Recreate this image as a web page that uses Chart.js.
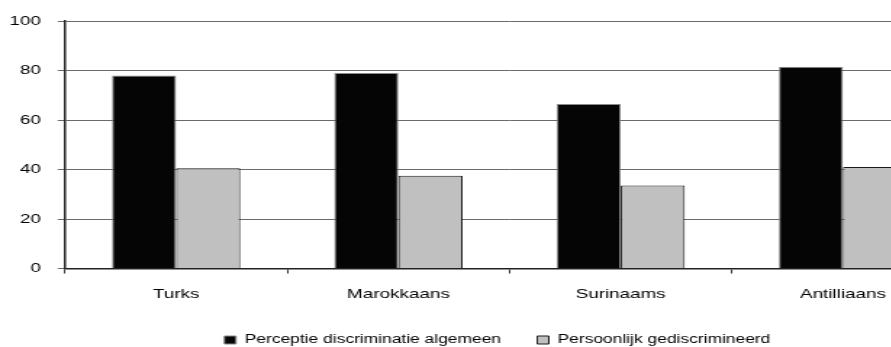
<!DOCTYPE html>
<html>
<head>
<meta charset="utf-8">
<script src="https://cdn.jsdelivr.net/npm/chart.js@4/dist/chart.umd.min.js"></script>
<style>
  html, body { margin: 0; padding: 0; background: #fff; overflow: hidden; width: 891px; height: 347px; }
  #wrap { width: 660px; height: 356px; transform: scaleX(1.45); transform-origin: 0 0; }
</style>
</head>
<body>
<div id="wrap"><canvas id="c" width="660" height="356"></canvas></div>
<script>
const categories = ["Turks", "Marokkaans", "Surinaams", "Antilliaans"];
const seriesNames = ["Perceptie discriminatie algemeen", "Persoonlijk gediscrimineerd"];
const perceptieAlgemeen = [78, 79, 66.5, 81.5];
const persoonlijk = [40.5, 37.5, 33.5, 41];
const yTickLabels = ["0", "20", "40", "60", "80", "100"];

const FONT = "'Liberation Sans', Arial, sans-serif";

const legendShift = {
  id: 'legendShift',
  afterLayout(chart) {
    const lg = chart.legend;
    if (lg) { lg.left += 12; lg.right += 12; }
  }
};

new Chart(document.getElementById('c'), {
  type: 'bar',
  data: {
    labels: categories,
    datasets: [
      { label: seriesNames[0], data: perceptieAlgemeen, backgroundColor: '#050505', borderColor: '#8a8a8a', borderWidth: 1, categoryPercentage: 0.577, barPercentage: 1 },
      { label: seriesNames[1], data: persoonlijk, backgroundColor: '#c0c0c0', borderColor: '#1a1a1a', borderWidth: 1, categoryPercentage: 0.577, barPercentage: 1 }
    ]
  },
  plugins: [legendShift],
  options: {
    responsive: false,
    animation: false,
    devicePixelRatio: 1,
    layout: { padding: { left: 4, right: 2, top: 21, bottom: 0 } },
    plugins: {
      tooltip: { enabled: false },
      legend: {
        position: 'bottom',
        labels: { boxWidth: 8, boxHeight: 8, padding: 25, color: '#000', font: { family: FONT, size: 12 } }
      }
    },
    scales: {
      x: {
        grid: { drawOnChartArea: false, drawTicks: true, tickLength: 5, color: '#333', offset: true },
        border: { color: '#222', width: 1.5 },
        ticks: { color: '#000', padding: 13, font: { family: FONT, size: 13 } },
        afterFit(scale) { scale.height = 40.5; }
      },
      y: {
        min: 0, max: 100,
        grid: { color: '#6a6a6a', lineWidth: 1, drawTicks: true, tickLength: 5 },
        border: { color: '#222', width: 1.5 },
        ticks: {
          stepSize: 20, color: '#000', padding: 11.5, font: { family: FONT, size: 13 },
          callback: (v, i) => yTickLabels[i]
        },
        afterFit(scale) { scale.width = 40.8; }
      }
    }
  }
});
</script>
</body>
</html>
